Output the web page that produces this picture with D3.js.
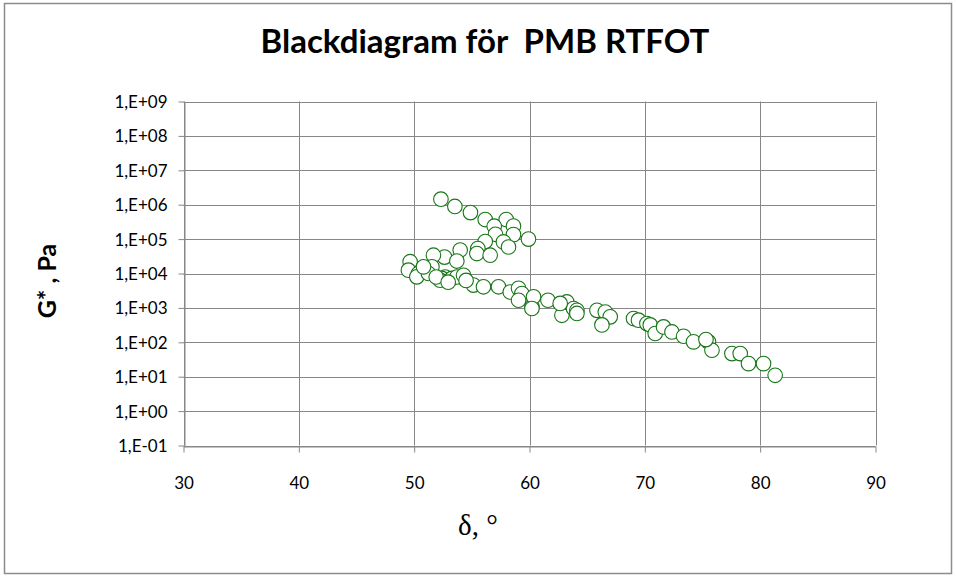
<!DOCTYPE html>
<html>
<head>
<meta charset="utf-8">
<script src="https://cdn.jsdelivr.net/npm/d3@7"></script>
<style>
  html, body { margin: 0; padding: 0; background: #fff; }
  svg { display: block; }
</style>
</head>
<body>
<svg id="chart" width="956" height="578"></svg>
<script>
// Phase angle δ (degrees) for each measurement
const delta = [
  52.32, 53.53, 54.88, 56.16, 57.98, 56.94, 58.61, 57.05, 58.61, 59.91,
  56.16, 57.74, 58.18, 55.52, 55.44, 56.59, 53.99, 52.63, 51.67, 53.70,
  49.65, 49.50, 50.37, 50.23, 51.54, 51.24, 52.69, 52.40, 53.27, 53.70,
  54.28, 52.25, 55.14, 56.01, 57.31, 58.33, 59.05, 59.34, 59.05, 60.21,
  60.35, 61.60, 62.81, 63.24, 63.82, 64.11, 65.85, 66.57, 67.00, 66.28,
  69.02, 69.45, 70.18, 70.47, 70.90, 71.62, 72.35, 73.36, 74.22, 75.52,
  75.82, 77.55, 78.27, 78.99, 80.29, 81.30, 50.81, 51.91, 52.95, 54.50,
  62.66, 60.21, 64.11, 75.30
];
// Complex modulus G* (Pa) for each measurement
const gStar = [
  1.45e6, 8.9e5, 5.9e5, 3.7e5, 3.7e5, 2.37e5, 2.4e5, 1.38e5, 1.35e5, 1.0e5,
  8.5e4, 8.3e4, 5.9e4, 5.3e4, 3.8e4, 3.4e4, 4.8e4, 3.0e4, 3.4e4, 2.3e4,
  2.2e4, 1.25e4, 1.0e4, 8.0e3, 1.56e4, 1.0e4, 7.9e3, 7.2e3, 7.2e3, 7.9e3,
  8.9e3, 6.4e3, 4.6e3, 4.1e3, 4.1e3, 2.9e3, 3.7e3, 2.6e3, 1.67e3, 1.07e3,
  2.1e3, 1.67e3, 6.1e2, 1.49e3, 9.6e2, 8.5e2, 8.5e2, 7.6e2, 5.5e2, 3.2e2,
  4.9e2, 4.4e2, 3.5e2, 3.2e2, 1.8e2, 2.8e2, 2.0e2, 1.5e2, 1.03e2, 1.03e2,
  59, 47, 47, 24, 24, 11, 1.56e4, 7.9e3, 5.6e3, 6.3e3,
  1.35e3, 9.6e2, 6.9e2, 1.2e2
];

const xTicks = [30, 40, 50, 60, 70, 80, 90];
const yTicks = [1e-1, 1e0, 1e1, 1e2, 1e3, 1e4, 1e5, 1e6, 1e7, 1e8, 1e9];
const yTickLabels = ["1,E-01", "1,E+00", "1,E+01", "1,E+02", "1,E+03", "1,E+04",
                     "1,E+05", "1,E+06", "1,E+07", "1,E+08", "1,E+09"];

const titleText = "Blackdiagram för\u00a0\u00a0PMB RTFOT";
const xTitle = "δ, °";
const yTitle = "G* , Pa";

const svg = d3.select("#chart");
const W = 956, H = 578;
const plot = { left: 183.5, right: 875.5, top: 101.5, bottom: 445.5 };
const gridColor = "#878787";
const markerColor = "#177517";

// Outer chart frame
svg.append("rect")
  .attr("x", 4.5).attr("y", 3.5)
  .attr("width", W - 9).attr("height", H - 8)
  .attr("fill", "#fff")
  .attr("stroke", "#8c8c8c")
  .attr("stroke-width", 1.5);

const x = d3.scaleLinear().domain([30, 90]).range([plot.left, plot.right]);
const y = d3.scaleLog().domain([1e-1, 1e9]).range([plot.bottom, plot.top]);

// Gridlines
const grid = svg.append("g");
grid.selectAll("line.h").data(yTicks).join("line")
  .attr("x1", plot.left).attr("x2", plot.right)
  .attr("y1", d => Math.round(y(d)) + 0.5).attr("y2", d => Math.round(y(d)) + 0.5)
  .attr("stroke", gridColor).attr("stroke-width", 1);
grid.selectAll("line.v").data(xTicks).join("line")
  .attr("y1", plot.top).attr("y2", plot.bottom)
  .attr("x1", d => Math.round(x(d)) + 0.5).attr("x2", d => Math.round(x(d)) + 0.5)
  .attr("stroke", gridColor).attr("stroke-width", 1);

// Axes
const xAxis = d3.axisBottom(x).tickValues(xTicks).tickSize(6).tickSizeOuter(0)
  .tickFormat(d3.format("d"));
const gx = svg.append("g")
  .attr("transform", `translate(0,${Math.round(plot.bottom) + 0.5})`)
  .call(xAxis);

const yAxis = d3.axisLeft(y).tickValues(yTicks).tickSize(6).tickSizeOuter(0)
  .tickFormat((d, i) => yTickLabels[i]);
const gy = svg.append("g")
  .attr("transform", `translate(${Math.round(plot.left) + 0.5},0)`)
  .call(yAxis);

[gx, gy].forEach(g => {
  g.select(".domain").attr("stroke", gridColor).attr("stroke-width", 1);
  g.selectAll(".tick line").attr("stroke", gridColor).attr("stroke-width", 1);
  g.selectAll(".tick text")
    .attr("fill", "#000")
    .style("font-family", "Lato, 'Noto Sans', sans-serif")
    .style("font-size", "17px");
});
gx.selectAll(".tick text").attr("dy", "0").attr("y", 42);
gy.selectAll(".tick text").attr("x", -17).attr("dy", "0.35em");

// Data markers
svg.append("g").selectAll("circle")
  .data(delta.map((d, i) => [d, gStar[i]]))
  .join("circle")
  .attr("cx", d => x(d[0]))
  .attr("cy", d => y(d[1]))
  .attr("r", 7.3)
  .attr("fill", "#fff")
  .attr("stroke", markerColor)
  .attr("stroke-width", 1.1);

// Titles
svg.append("text")
  .attr("x", 485).attr("y", 53)
  .attr("text-anchor", "middle")
  .style("font-family", "Lato, 'Noto Sans', sans-serif")
  .style("font-weight", "bold")
  .style("font-size", "33px")
  .text(titleText);

svg.append("text")
  .attr("transform", "translate(56,281) rotate(-90)")
  .attr("text-anchor", "middle")
  .style("font-family", "Lato, 'Noto Sans', sans-serif")
  .style("font-weight", "bold")
  .style("font-size", "25px")
  .text(yTitle);

svg.append("text")
  .attr("x", 478).attr("y", 535)
  .attr("text-anchor", "middle")
  .style("font-family", "'Liberation Serif', serif")
  .style("font-size", "29px")
  .text(xTitle);
</script>
</body>
</html>
